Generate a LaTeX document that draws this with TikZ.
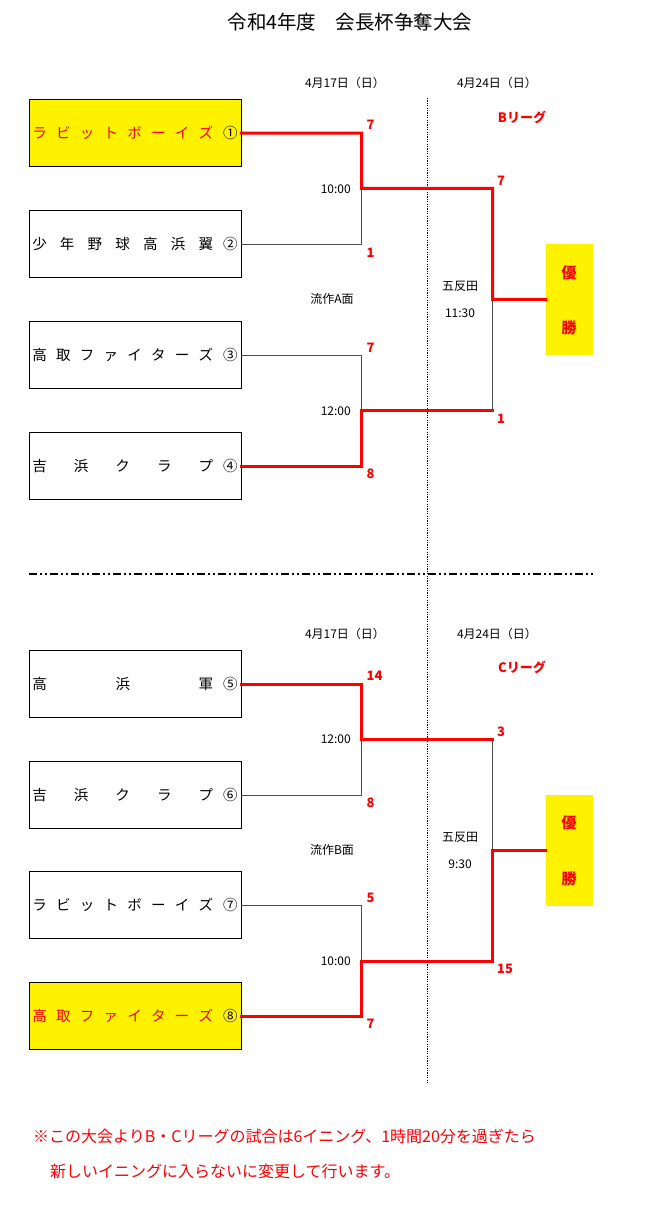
\documentclass[tikz,border=0pt]{standalone}
\usepackage{fontspec}
\setmainfont{Noto Sans CJK JP}
\begin{document}
\begin{tikzpicture}[x=1pt,y=-1pt,
  box/.style={draw=black,line width=0.9pt,minimum width=212pt,minimum height=67.5pt,inner xsep=3pt,font=\fontsize{14.5}{15}\selectfont},
  redbox/.style={box,fill=yellow,text=red},
  win/.style={line width=3pt,draw=red,line join=miter,line cap=rect},
  lose/.style={line width=1pt,draw=black!70},
  score/.style={font=\bfseries\fontsize{13}{13}\selectfont,text=red,anchor=west,inner sep=0pt},
  small/.style={font=\fontsize{12}{12}\selectfont,inner sep=0pt},
  timel/.style={small,anchor=east},
  league/.style={font=\bfseries\fontsize{13}{13}\selectfont,text=red,inner sep=0pt},
  cup/.style={fill=yellow,minimum width=47pt,minimum height=111pt,inner sep=0pt},
  cupchar/.style={font=\bfseries\fontsize{15}{15}\selectfont,text=red,inner sep=0pt},
  note/.style={font=\fontsize{16}{16}\selectfont,text=red,anchor=west,inner sep=0pt},
  sep/.style={line width=0.7pt,dash pattern=on 1.2pt off 1.2pt},
  divider/.style={line width=2pt,dash pattern=on 8pt off 3pt on 2pt off 3pt on 2pt off 3pt}]

\fill[white] (0,0) rectangle (650,1219);
\useasboundingbox (0,0) rectangle (650,1219);

% title
\node[font=\fontsize{19.5}{19.5}\selectfont,inner sep=0pt] (title) at (350,22) {令和4年度　会長杯争奪大会};

% guide lines
\coordinate (dt) at (427.3,98);
\coordinate (db) at (427.3,1083);
\draw[sep] (dt) -- (db);
\coordinate (hl) at (29,574);
\coordinate (hr) at (594,574);
\draw[divider] (hl) -- (hr);

% ===== B league =====
\node[small] (dA1) at (345,83) {4月17日（日）};
\node[small] (dA2) at (497,83) {4月24日（日）};
\node[league] (lgB) at (522,117) {Bリーグ};

\node[redbox] (b1) at (135,133) {\makebox[181pt][s]{ラ\hfill ビ\hfill ッ\hfill ト\hfill ボ\hfill ー\hfill イ\hfill ズ}\hspace{10pt}{\color{black}①}};
\node[box] (b2) at (135,244) {\makebox[181pt][s]{少\hfill 年\hfill 野\hfill 球\hfill 高\hfill 浜\hfill 翼}\hspace{10pt}②};
\node[box] (b3) at (135,355) {\makebox[181pt][s]{高\hfill 取\hfill フ\hfill ァ\hfill イ\hfill タ\hfill ー\hfill ズ}\hspace{10pt}③};
\node[box] (b4) at (135,466) {\makebox[181pt][s]{吉\hfill 浜\hfill ク\hfill ラ\hfill プ}\hspace{10pt}④};

\coordinate (m1) at (361.7,188.3);
\coordinate (m2) at (361.7,410.7);
\coordinate (fA1) at (492.7,188.3);
\coordinate (fA2) at (492.7,410.7);
\coordinate (fA) at (492.7,299.3);
\node[cup] (cupA) at (569.5,299.5) {};
\node[cupchar] (yuA) at (569,273) {優};
\node[cupchar] (shA) at (569,328) {勝};

\draw[lose] (b2.east) -| (m1);
\draw[lose] (b3.east) -| (m2);
\draw[lose] (fA2) -- (fA);
\draw[win] (b1.east) -| (m1) -- (fA1) -- (fA) -- (cupA.west);
\draw[win] (b4.east) -| (m2) -- (fA2);

\node[score] (sA1) at (366.5,125) {7};
\node[score] (sA2) at (366.5,253) {1};
\node[score] (sA3) at (366.5,348) {7};
\node[score] (sA4) at (366.5,474) {8};
\node[score] (sA5) at (497,181) {7};
\node[score] (sA6) at (497,419) {1};

\node[timel] (tA1) at (351,189) {10:00};
\node[timel] (tA2) at (351,411) {12:00};
\node[small] (pA1) at (332,299) {流作A面};
\node[small] (pA2) at (460,286) {五反田};
\node[small] (tA3) at (460,313) {11:30};

% ===== C league =====
\node[small] (dC1) at (345,634) {4月17日（日）};
\node[small] (dC2) at (497,634) {4月24日（日）};
\node[league] (lgC) at (522,667) {Cリーグ};

\node[box] (b5) at (135,684) {\makebox[181pt][s]{高\hfill 浜\hfill 軍}\hspace{10pt}⑤};
\node[box] (b6) at (135,795) {\makebox[181pt][s]{吉\hfill 浜\hfill ク\hfill ラ\hfill プ}\hspace{10pt}⑥};
\node[box] (b7) at (135,905) {\makebox[181pt][s]{ラ\hfill ビ\hfill ッ\hfill ト\hfill ボ\hfill ー\hfill イ\hfill ズ}\hspace{10pt}⑦};
\node[redbox] (b8) at (135,1016) {\makebox[181pt][s]{高\hfill 取\hfill フ\hfill ァ\hfill イ\hfill タ\hfill ー\hfill ズ}\hspace{10pt}{\color{black}⑧}};

\coordinate (m3) at (361.7,739);
\coordinate (m4) at (361.7,961);
\coordinate (fC1) at (492.7,739);
\coordinate (fC2) at (492.7,961);
\coordinate (fC) at (492.7,850);
\node[cup] (cupC) at (569.5,850) {};
\node[cupchar] (yuC) at (569,823) {優};
\node[cupchar] (shC) at (569,879) {勝};

\draw[lose] (b6.east) -| (m3);
\draw[lose] (b7.east) -| (m4);
\draw[lose] (fC1) -- (fC);
\draw[win] (b5.east) -| (m3) -- (fC1);
\draw[win] (b8.east) -| (m4) -- (fC2) -- (fC) -- (cupC.west);

\node[score] (sC1) at (366.5,676) {14};
\node[score] (sC2) at (366.5,803) {8};
\node[score] (sC3) at (366.5,898) {5};
\node[score] (sC4) at (366.5,1024) {7};
\node[score] (sC5) at (497,732) {3};
\node[score] (sC6) at (497,969) {15};

\node[timel] (tC1) at (351,739) {12:00};
\node[timel] (tC2) at (351,961) {10:00};
\node[small] (pC1) at (332,850) {流作B面};
\node[small] (pC2) at (460,837) {五反田};
\node[small] (tC3) at (460,864) {9:30};

% note
\node[note] (n1) at (33,1136) {※この大会よりB・Cリーグの試合は6イニング、1時間20分を過ぎたら};
\node[note] (n2) at (50,1171) {新しいイニングに入らないに変更して行います。};
\end{tikzpicture}
\end{document}
